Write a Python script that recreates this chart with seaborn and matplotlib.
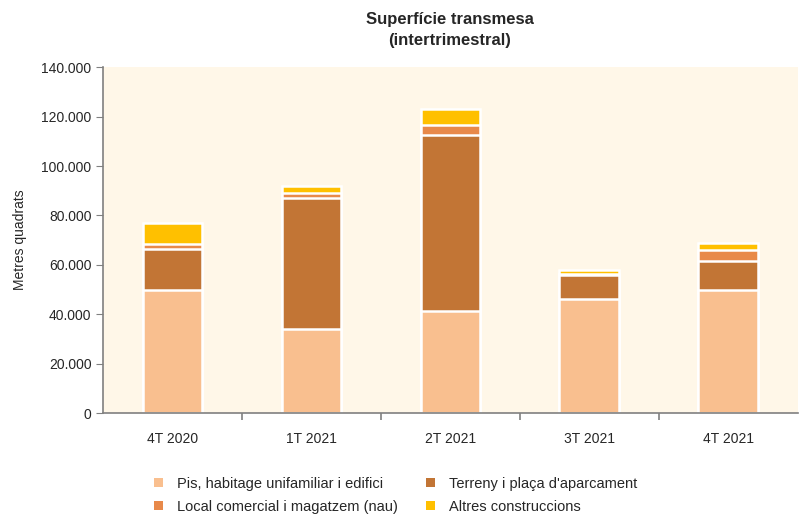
import pandas as pd
import numpy as np
import seaborn as sb
import matplotlib.pyplot as plt
from matplotlib.ticker import FuncFormatter, FixedLocator
from matplotlib.patches import Patch

# Data (metres quadrats)
trimestres = ['4T 2020', '1T 2021', '2T 2021', '3T 2021', '4T 2021']
pis = [50000, 34000, 41300, 46200, 49800]
terreny = [16600, 53000, 71200, 9600, 11700]
local = [2000, 2000, 4300, 300, 4500]
altres = [8300, 2900, 6200, 1800, 2800]

series = ['Pis, habitage unifamiliar i edifici', 'Terreny i plaça d\'aparcament',
          'Local comercial i magatzem (nau)', 'Altres construccions']
colors = ['#F9BF8F', '#C27535', '#E8894A', '#FFC000']

df = pd.DataFrame({'trimestre': trimestres, 'pis': pis, 'terreny': terreny,
                   'local': local, 'altres': altres})
# cumulative heights, drawn from tallest down to fake the stacking
df['c_pis'] = df['pis']
df['c_terreny'] = df['c_pis'] + df['terreny']
df['c_local'] = df['c_terreny'] + df['local']
df['c_altres'] = df['c_local'] + df['altres']

sb.set_style('white')
plt.rcParams['font.family'] = ['Liberation Sans', 'DejaVu Sans']

fig = plt.figure(figsize=(8, 5.17), dpi=100)
ax = fig.add_axes([0.129, 0.201, 0.868, 0.669])
ax.set_facecolor('#FFF7E8')

for col, c in zip(['c_altres', 'c_local', 'c_terreny', 'c_pis'], colors[::-1]):
    sb.barplot(data=df, x='trimestre', y=col, color=c, width=0.43,
               edgecolor='white', linewidth=1.8, saturation=1, ax=ax)

ax.set_ylim(0, 140000)
ax.set_xlim(-0.5, 4.5)
ax.set_yticks(np.arange(0, 140001, 20000))
ax.yaxis.set_major_formatter(FuncFormatter(lambda v, p: f'{int(v):,}'.replace(',', '.')))
ax.set_xlabel('')
ax.set_ylabel('Metres quadrats', fontsize=10, labelpad=10)

for s in ['top', 'right']:
    ax.spines[s].set_visible(False)
for s in ['left', 'bottom']:
    ax.spines[s].set_color('#808080')
    ax.spines[s].set_linewidth(1.2)

ax.tick_params(axis='y', which='major', left=True, length=5, color='#808080', labelsize=10)
ax.tick_params(axis='x', which='major', bottom=False, labelsize=10, pad=10)
ax.xaxis.set_minor_locator(FixedLocator([0.5, 1.5, 2.5, 3.5]))
ax.tick_params(axis='x', which='minor', bottom=True, length=5, color='#808080', width=1.2)

fig.text(0.5625, 0.942, 'Superfície transmesa\n(intertrimestral)', ha='center', va='center',
         fontsize=12, fontweight='bold', linespacing=1.55)

# legend filled column-wise, so order the entries to read row by row
order = [0, 2, 1, 3]
handles = [Patch(facecolor=colors[i], edgecolor='none') for i in order]
labels = [series[i] for i in order]
leg = fig.legend(handles, labels, loc='center left', bbox_to_anchor=(0.176, 0.042), ncol=2,
                 frameon=False, fontsize=10.5, handlelength=0.6, handleheight=0.6,
                 columnspacing=1.9, handletextpad=1.0, labelspacing=0.6)

fig.savefig('out.png', dpi=100)
